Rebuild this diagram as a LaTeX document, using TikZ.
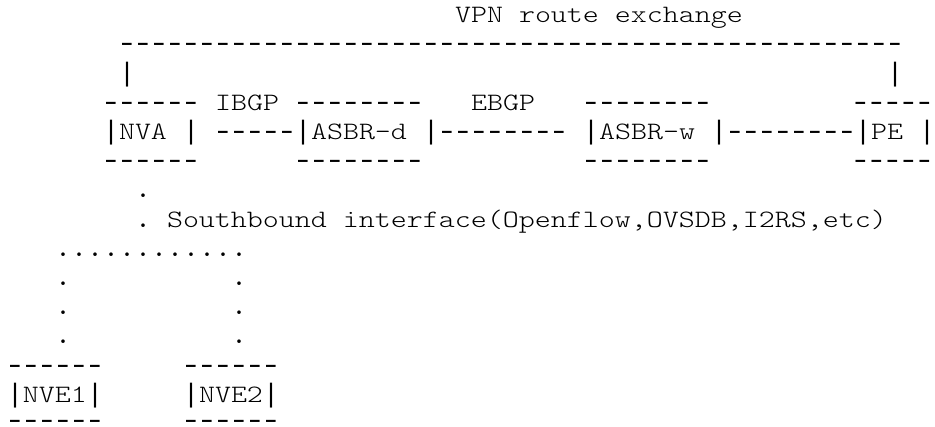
\documentclass[tikz,border=0pt]{standalone}
\usepackage{fontspec}
% letters: a light serif typewriter face widened to a 16pt cell
\newfontfamily\lettersfont{Latin Modern Mono Light}[FakeStretch=1.219]
% dots: the regular weight, for rounder points
\newfontfamily\dotsfont{Latin Modern Mono}
% rules (dashes and bars): a 16pt-cell mono face with tall bars
\newfontfamily\rulesfont{Liberation Mono}
% character grid: 16pt per column, 29.2pt per row
\newcommand\gridtext[4]{%
  \node[gridchar] (#1) at ({7+16*#3},{432.4-29.2*#2}) {#4};}
\newcommand\gridrule[4]{%
  \node[gridchar,gridrulefont] (#1) at ({7+16*#3},{432.4-29.2*#2}) {#4};}
% a run of #5 hyphens, one per 16pt cell (#1: placement in the cell)
\newcommand\gridrun[5][c]{%
  \node[gridchar,gridrulefont] (#2) at ({7+16*#4},{432.4-29.2*#3})
    {\foreach \k in {1,...,#5}{\makebox[16pt][#1]{\scalebox{1.32}[1]{-}}}};}
% a run of #4 dots, one per 16pt cell
\newcommand\griddots[4]{%
  \node[gridchar,griddotfont] (#1) at ({7+16*#3},{432.4-29.2*#2})
    {\foreach \k in {1,...,#4}{\makebox[16pt]{.}}};}
\tikzset{
  gridchar/.style={anchor=base west, inner sep=0pt, outer sep=0pt,
    font=\lettersfont\fontsize{25}{29.2}\selectfont},
  griddotfont/.style={font=\dotsfont\fontsize{32}{29.2}\selectfont},
  gridrulefont/.style={font=\rulesfont\fontsize{26.67}{29.2}\selectfont}
}
\begin{document}
\begin{tikzpicture}[x=1pt,y=1pt]
\useasboundingbox[fill=white] (0,0) rectangle (935,426);
% VPN route exchange between NVA and PE
\gridtext{title}{1}{28}{VPN route exchange}
\gridrun{topbar}{2}{7}{49}
\gridrule{barl}{3}{7}{|}
\gridrule{barr}{3}{55}{|}
% box tops and BGP session labels
\gridrun{nvatop}{4}{6}{6}
\gridtext{ibgp}{4}{13}{IBGP}
\gridrun{asbrdtop}{4}{18}{8}
\gridtext{ebgp}{4}{29}{EBGP}
\gridrun{asbrwtop}{4}{36}{8}
\gridrun[r]{petop}{4}{53}{5}
% boxes and links
\gridrule{nval}{5}{6}{|}
\gridtext{nva}{5}{7}{NVA}
\gridrule{nvar}{5}{11}{|}
\gridrun{ibgplink}{5}{13}{5}
\gridrule{asbrdl}{5}{18}{|}
\gridtext{asbrd}{5}{19}{ASBR-d}
\gridrule{asbrdr}{5}{26}{|}
\gridrun{ebgplink}{5}{27}{8}
\gridrule{asbrwl}{5}{36}{|}
\gridtext{asbrw}{5}{37}{ASBR-w}
\gridrule{asbrwr}{5}{44}{|}
\gridrun{pelink}{5}{45}{8}
\gridrule{pel}{5}{53}{|}
\gridtext{pe}{5}{54}{PE}
\gridrule{per}{5}{57}{|}
% box bottoms
\gridrun{nvabot}{6}{6}{6}
\gridrun{asbrdbot}{6}{18}{8}
\gridrun{asbrwbot}{6}{36}{8}
\gridrun[r]{pebot}{6}{53}{5}
% southbound interface down to the NVEs
\griddots{sba}{7}{8}{1}
\griddots{sbb}{8}{8}{1}
\gridtext{sbtext}{8}{10}{Southbound interface(Openflow,OVSDB,I2RS,etc)}
\griddots{split}{9}{3}{12}
\griddots{la}{10}{3}{1}
\griddots{ra}{10}{14}{1}
\griddots{lb}{11}{3}{1}
\griddots{rb}{11}{14}{1}
\griddots{lc}{12}{3}{1}
\griddots{rc}{12}{14}{1}
\gridrun{nveatop}{13}{0}{6}
\gridrun{nvebtop}{13}{11}{6}
\gridrule{nveal}{14}{0}{|}
\gridtext{nvea}{14}{1}{NVE1}
\gridrule{nvear}{14}{5}{|}
\gridrule{nvebl}{14}{11}{|}
\gridtext{nveb}{14}{12}{NVE2}
\gridrule{nvebr}{14}{16}{|}
% bottom edges of the NVE boxes sit on the lower border
\node[gridchar,gridrulefont] (nveabot) at (7,-2)
  {\foreach \k in {1,...,6}{\makebox[16pt]{\scalebox{1.32}[1]{-}}}};
\node[gridchar,gridrulefont] (nvebbot) at ({7+16*11},-2)
  {\foreach \k in {1,...,6}{\makebox[16pt]{\scalebox{1.32}[1]{-}}}};
\end{tikzpicture}
\end{document}
